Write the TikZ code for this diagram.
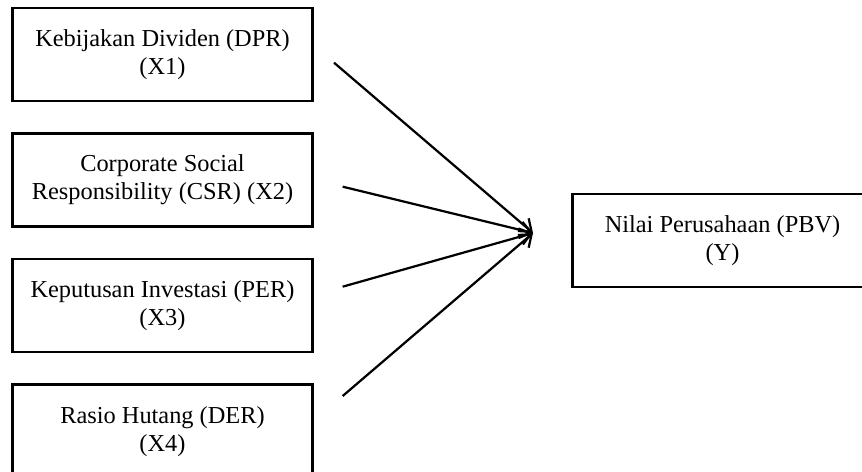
\documentclass[tikz,border=0pt]{standalone}
\usepackage{fontspec}
\setmainfont{Liberation Serif}
\usetikzlibrary{arrows.meta, positioning}
\tikzset{
  kotakVar/.style={
    draw=black, line width=2.2pt,
    minimum width=9cm, minimum height=2.79cm,
    align=center, inner sep=2pt,
    font=\fontsize{20.8}{23.8}\selectfont
  },
  panah/.style={-{Straight Barb[length=3.3mm, width=5mm]}, line width=1.9pt},
}
\begin{document}
\begin{tikzpicture}[node distance=0.9cm]
    \useasboundingbox (0,0) rectangle (25.86,-14.13);
    \node[kotakVar] (x1) at (4.875,-1.635) {Kebijakan Dividen (DPR)\\(X1)};
    \node[kotakVar, below=of x1] (x2) {Corporate Social\\Responsibility (CSR) (X2)};
    \node[kotakVar, below=of x2] (x3) {Keputusan Investasi (PER)\\(X3)};
    \node[kotakVar, below=of x3] (x4) {Rasio Hutang (DER)\\(X4)};
    \node[kotakVar] (y) at (21.675,-7.215) {Nilai Perusahaan (PBV)\\(Y)};
    % pangkal dan ujung panah
    \coordinate (a1) at (10.02,-1.88);
    \coordinate (a2) at (10.28,-5.60);
    \coordinate (a3) at (10.28,-8.60);
    \coordinate (a4) at (10.28,-11.88);
    \coordinate (ujung) at (15.99,-6.99);
    \draw[panah] (a1) -- (ujung);
    \draw[panah] (a2) -- (ujung);
    \draw[panah] (a3) -- (ujung);
    \draw[panah] (a4) -- (ujung);
\end{tikzpicture}
\end{document}
